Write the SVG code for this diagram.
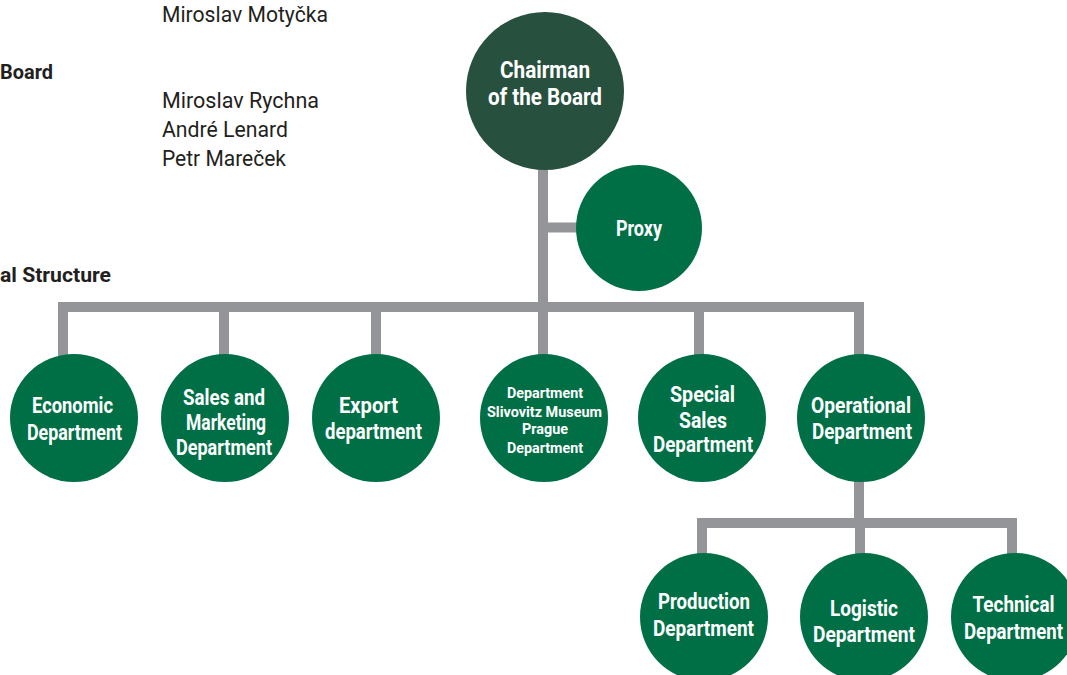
<svg xmlns="http://www.w3.org/2000/svg" width="1067" height="675" viewBox="0 0 1067 675">
<style>
  .bg{fill:#ffffff}
  .conn{fill:none;stroke:#939598;stroke-width:10;stroke-linecap:butt;stroke-linejoin:miter}
  .chair{fill:#28503e}
  .dept{fill:#006f46}
  .lbl{font-family:"Liberation Sans Narrow","Roboto","Liberation Sans",sans-serif;font-weight:bold;fill:#ffffff;text-anchor:middle;font-size:21.5px}
  .big{font-size:23px}
  .small{font-size:15px}
  .name{font-family:"Liberation Sans Narrow","Roboto","Liberation Sans",sans-serif;font-size:21.5px;fill:#231f20}
  .head{font-family:"Liberation Sans Narrow","Roboto","Liberation Sans",sans-serif;font-size:21px;font-weight:bold;fill:#231f20}
</style>
<rect class="bg" x="0" y="0" width="1067" height="675"/>

<g id="side-text">
  <text class="name" x="162" y="22" textLength="166" lengthAdjust="spacingAndGlyphs">Miroslav Motyčka</text>
  <text class="head" x="0" y="79" textLength="53" lengthAdjust="spacingAndGlyphs">Board</text>
  <text class="name" x="162" y="108" textLength="157" lengthAdjust="spacingAndGlyphs">Miroslav Rychna</text>
  <text class="name" x="162" y="137" textLength="126" lengthAdjust="spacingAndGlyphs">André Lenard</text>
  <text class="name" x="162" y="166" textLength="124" lengthAdjust="spacingAndGlyphs">Petr Mareček</text>
  <text class="head" x="0" y="282" textLength="111" lengthAdjust="spacingAndGlyphs">al Structure</text>
</g>

<g id="connectors">
  <path class="conn" d="M543,168 V358"/>
  <path class="conn" d="M543,227.5 H580"/>
  <path class="conn" d="M63,358 V307 H859 V358"/>
  <path class="conn" d="M224,307 V358"/>
  <path class="conn" d="M376,307 V358"/>
  <path class="conn" d="M699,307 V358"/>
  <path class="conn" d="M859,478 V523"/>
  <path class="conn" d="M702,558 V523 H1012 V558"/>
  <path class="conn" d="M860,523 V558"/>
</g>

<g id="chairman">
  <circle class="chair" cx="545" cy="91" r="79"/>
  <text class="lbl big" x="545" y="78" textLength="90" lengthAdjust="spacingAndGlyphs">Chairman</text>
  <text class="lbl big" x="545" y="105" textLength="114" lengthAdjust="spacingAndGlyphs">of the Board</text>
</g>

<g id="proxy">
  <circle class="dept" cx="639" cy="228" r="63"/>
  <text class="lbl" x="639" y="236" textLength="46" lengthAdjust="spacingAndGlyphs">Proxy</text>
</g>

<g id="economic">
  <circle class="dept" cx="74" cy="418" r="64"/>
  <text class="lbl" x="72.5" y="413" textLength="81" lengthAdjust="spacingAndGlyphs">Economic</text>
  <text class="lbl" x="74.5" y="440" textLength="95" lengthAdjust="spacingAndGlyphs">Department</text>
</g>

<g id="sales-marketing">
  <circle class="dept" cx="225" cy="418" r="64"/>
  <text class="lbl" x="224" y="405" textLength="82" lengthAdjust="spacingAndGlyphs">Sales and</text>
  <text class="lbl" x="226" y="430" textLength="80" lengthAdjust="spacingAndGlyphs">Marketing</text>
  <text class="lbl" x="224" y="455" textLength="96" lengthAdjust="spacingAndGlyphs">Department</text>
</g>

<g id="export">
  <circle class="dept" cx="376" cy="418" r="64"/>
  <text class="lbl" x="368.5" y="413" textLength="59" lengthAdjust="spacingAndGlyphs">Export</text>
  <text class="lbl" x="373.5" y="439" textLength="97" lengthAdjust="spacingAndGlyphs">department</text>
</g>

<g id="museum">
  <circle class="dept" cx="544" cy="418" r="64"/>
  <text class="lbl small" x="545" y="398" textLength="76" lengthAdjust="spacingAndGlyphs">Department</text>
  <text class="lbl small" x="544.5" y="417" textLength="115" lengthAdjust="spacingAndGlyphs">Slivovitz Museum</text>
  <text class="lbl small" x="545" y="434" textLength="46" lengthAdjust="spacingAndGlyphs">Prague</text>
  <text class="lbl small" x="545" y="453" textLength="76" lengthAdjust="spacingAndGlyphs">Department</text>
</g>

<g id="special-sales">
  <circle class="dept" cx="702" cy="418" r="64"/>
  <text class="lbl" x="702.5" y="402" textLength="65" lengthAdjust="spacingAndGlyphs">Special</text>
  <text class="lbl" x="703" y="428" textLength="48" lengthAdjust="spacingAndGlyphs">Sales</text>
  <text class="lbl" x="703" y="452" textLength="100" lengthAdjust="spacingAndGlyphs">Department</text>
</g>

<g id="operational">
  <circle class="dept" cx="861" cy="418" r="64"/>
  <text class="lbl" x="861" y="413" textLength="100" lengthAdjust="spacingAndGlyphs">Operational</text>
  <text class="lbl" x="862" y="439" textLength="100" lengthAdjust="spacingAndGlyphs">Department</text>
</g>

<g id="production">
  <circle class="dept" cx="704" cy="617" r="64"/>
  <text class="lbl" x="704" y="609" textLength="92" lengthAdjust="spacingAndGlyphs">Production</text>
  <text class="lbl" x="703.5" y="636" textLength="101" lengthAdjust="spacingAndGlyphs">Department</text>
</g>

<g id="logistic">
  <circle class="dept" cx="864" cy="617" r="64"/>
  <text class="lbl" x="864" y="616" textLength="68" lengthAdjust="spacingAndGlyphs">Logistic</text>
  <text class="lbl" x="864" y="642" textLength="102" lengthAdjust="spacingAndGlyphs">Department</text>
</g>

<g id="technical">
  <circle class="dept" cx="1015" cy="617" r="64"/>
  <text class="lbl" x="1013.5" y="612" textLength="82" lengthAdjust="spacingAndGlyphs">Technical</text>
  <text class="lbl" x="1013.5" y="639" textLength="99" lengthAdjust="spacingAndGlyphs">Department</text>
</g>
</svg>
